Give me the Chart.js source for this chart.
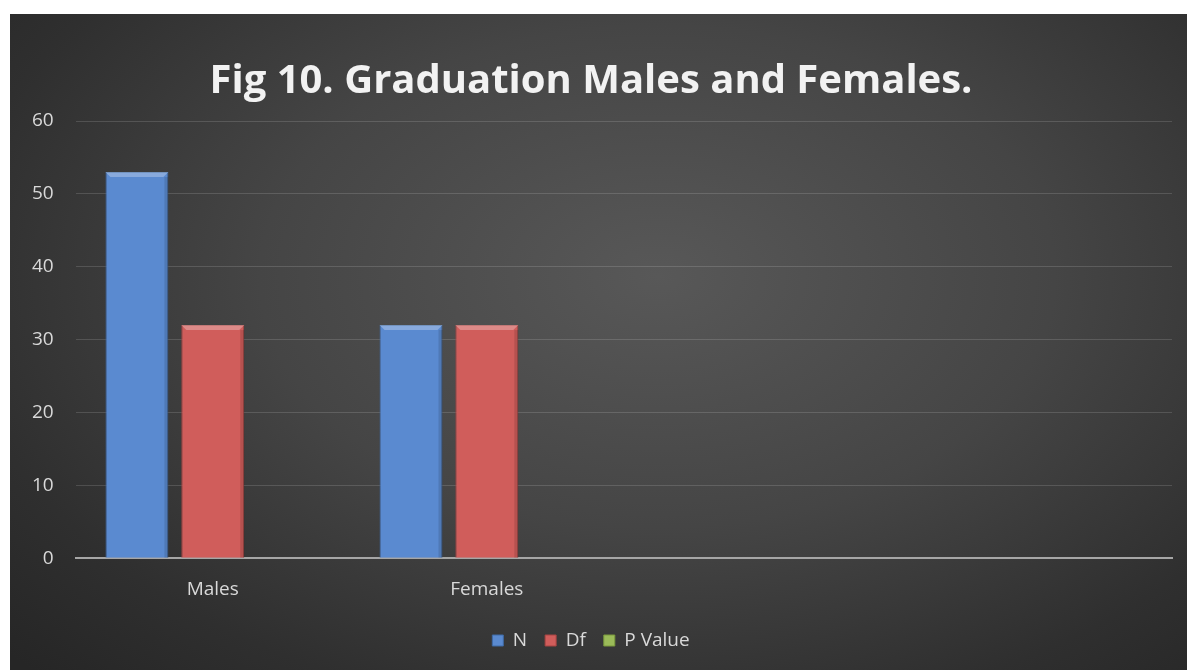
<!DOCTYPE html>
<html>
<head>
<meta charset="utf-8">
<script src="https://cdn.jsdelivr.net/npm/chart.js@4/dist/chart.umd.min.js"></script>
<style>
  html, body { margin: 0; padding: 0; background: #fff; }
  #frame {
    position: absolute; left: 10px; top: 14px; width: 1177px; height: 656px;
    background: radial-gradient(ellipse 75% 85% at 55% 40%, #585858 0%, #454545 45%, #2f2f2f 80%, #262626 100%);
  }
  canvas { display: block; }
</style>
</head>
<body>
<div id="frame"><canvas id="gradChart" width="1177" height="656"></canvas></div>
<script>
// graduation counts by sex
const categories = ["Males", "Females", "", ""];
const nValues    = [53, 32, null, null];
const dfValues   = [32, 32, null, null];
const pValues    = [0, 0, null, null];
const yTicks     = [0, 10, 20, 30, 40, 50, 60];

const TEXT = "#d9d9d9";
const FONT = "'Open Sans', 'Noto Sans', sans-serif";

// lighter strip on top of each bar, like a bevel
const bevelPlugin = {
  id: "bevel",
  afterDatasetsDraw(chart) {
    const ctx = chart.ctx;
    chart.data.datasets.forEach((ds, i) => {
      chart.getDatasetMeta(i).data.forEach((bar, j) => {
        if (ds.data[j] == null || !Number.isFinite(bar.height) || bar.height < 6) return;
        const left = bar.x - bar.width / 2;
        ctx.save();
        ctx.fillStyle = "rgba(255,255,255,0.28)";
        ctx.beginPath();
        ctx.moveTo(left, bar.y);
        ctx.lineTo(left + bar.width, bar.y);
        ctx.lineTo(left + bar.width - 5, bar.y + 5);
        ctx.lineTo(left + 5, bar.y + 5);
        ctx.closePath();
        ctx.fill();
        ctx.fillStyle = "rgba(0,0,0,0.12)";
        ctx.fillRect(left + bar.width - 4, bar.y + 5, 4, bar.height - 5);
        ctx.restore();
      });
    });
  }
};

const mk = (label, data, color, edge) => ({
  label, data,
  backgroundColor: color,
  borderColor: edge,
  borderWidth: 1,
  categoryPercentage: 0.83,
  barPercentage: 0.83,
});

new Chart(document.getElementById("gradChart"), {
  type: "bar",
  data: {
    labels: categories,
    datasets: [
      mk("N",       nValues,  "#5a8ad0", "#3e6aa6"),
      mk("Df",      dfValues, "#d05d5b", "#a84442"),
      mk("P Value", pValues,  "#9bbb59", "#7a9a3c"),
    ],
  },
  options: {
    responsive: false,
    animation: false,
    layout: { padding: { left: 0, right: 15, bottom: 10 } },
    plugins: {
      title: {
        display: true,
        text: "Fig 10. Graduation Males and Females.",
        color: "#f2f2f2",
        font: { family: FONT, size: 40, weight: "bold" },
        padding: { top: 44, bottom: 15 },
      },
      legend: {
        position: "bottom",
        labels: {
          color: TEXT,
          font: { family: FONT, size: 19 },
          boxWidth: 11, boxHeight: 11,
          padding: 18,
        },
      },
      tooltip: { enabled: false },
    },
    scales: {
      x: {
        grid: { display: false },
        border: { color: "#a6a6a6", width: 2 },
        ticks: { color: TEXT, font: { family: FONT, size: 19 }, padding: 12 },
      },
      y: {
        min: 0, max: 60,
        afterBuildTicks: axis => { axis.ticks = yTicks.map(v => ({ value: v })); },
        grid: { color: "rgba(255,255,255,0.14)", drawTicks: false },
        border: { display: false },
        ticks: { color: TEXT, font: { family: FONT, size: 19 }, padding: 22 },
      },
    },
  },
  plugins: [bevelPlugin],
});
</script>
</body>
</html>
